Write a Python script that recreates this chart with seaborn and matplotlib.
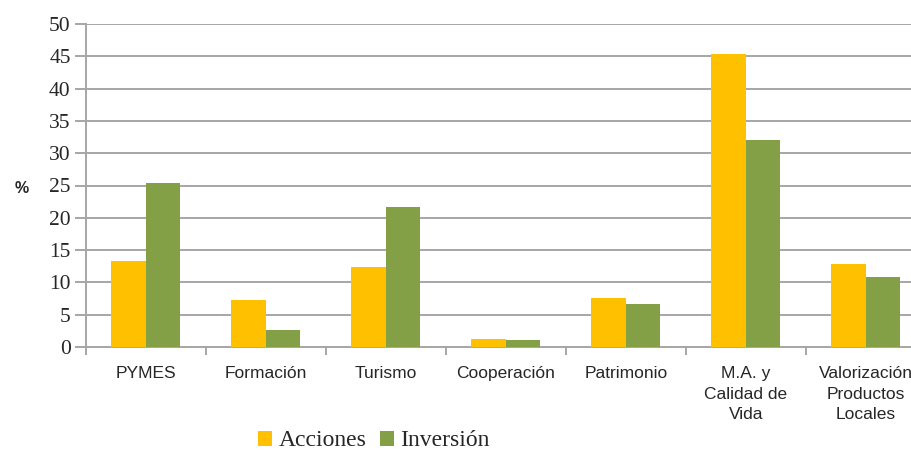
import pandas as pd
import numpy as np
import matplotlib.pyplot as plt
import seaborn as sns
from matplotlib.patches import Patch

# Data
categorias = ["PYMES", "Formación", "Turismo", "Cooperación", "Patrimonio",
              "M.A. y\nCalidad de\nVida", "Valorización\nProductos\nLocales"]
acciones = [13.3, 7.3, 12.4, 1.2, 7.6, 45.4, 12.9]
inversion = [25.4, 2.6, 21.7, 1.1, 6.7, 32.0, 10.9]
series = ["Acciones", "Inversión"]
colores = ["#FFC000", "#84A046"]

df = pd.DataFrame({
    "Categoria": categorias * 2,
    "Serie": [series[0]] * len(categorias) + [series[1]] * len(categorias),
    "Valor": acciones + inversion,
})

sns.set_theme(style="white")
plt.rcParams['font.family'] = ['Liberation Serif', 'DejaVu Serif']

fig = plt.figure(figsize=(9.12, 4.5), dpi=100)
# axes extends a bit past the right edge like the original (clipped)
ax = fig.add_axes([86 / 912, 1 - 347 / 450, 840 / 912, (347 - 24) / 450])

sns.barplot(data=df, x="Categoria", y="Valor", hue="Serie", order=categorias,
            hue_order=series, palette=colores, width=0.575, saturation=1,
            edgecolor="none", legend=False, ax=ax, zorder=3)

ax.set_xlim(-0.5, len(categorias) - 0.5)
ax.set_ylim(0, 50)
ax.set_yticks(np.arange(0, 51, 5))
ax.yaxis.grid(True, color="#a6a6a6", linewidth=1.4, zorder=0)
ax.set_axisbelow(True)

for s in ["top", "right"]:
    ax.spines[s].set_visible(False)
for s in ["left", "bottom"]:
    ax.spines[s].set_color("#a6a6a6")
    ax.spines[s].set_linewidth(1.4)

ax.tick_params(axis="y", which="major", length=8, width=1.4, color="#a6a6a6",
               labelsize=15.5, pad=3, left=True)
ax.set_xticks(np.arange(len(categorias)))
ax.set_xticklabels(categorias, family=["Liberation Sans Narrow", "Liberation Sans", "DejaVu Sans"],
                   fontsize=12.5, linespacing=1.45)
ax.tick_params(axis="x", which="major", length=0, pad=14)
ax.set_xticks(np.arange(len(categorias) + 1) - 0.5, minor=True)
ax.tick_params(axis="x", which="minor", length=6, width=1.4, color="#a6a6a6", bottom=True)

ax.set_xlabel("")
ax.set_ylabel("%", rotation=0, fontsize=11.5, family=["Liberation Sans", "DejaVu Sans"],
              fontweight="bold", va="center", ha="center")
ax.yaxis.set_label_coords(-0.0765, 0.49)

handles = [Patch(facecolor=c, edgecolor="none") for c in colores]
fig.legend(handles, series, loc="center", bbox_to_anchor=(374 / 912, 1 - 441 / 450),
           ncol=2, frameon=False, fontsize=17, handlelength=0.6, handleheight=0.6,
           handletextpad=0.25, columnspacing=0.6, borderaxespad=0)

fig.savefig("out.png", dpi=100)
